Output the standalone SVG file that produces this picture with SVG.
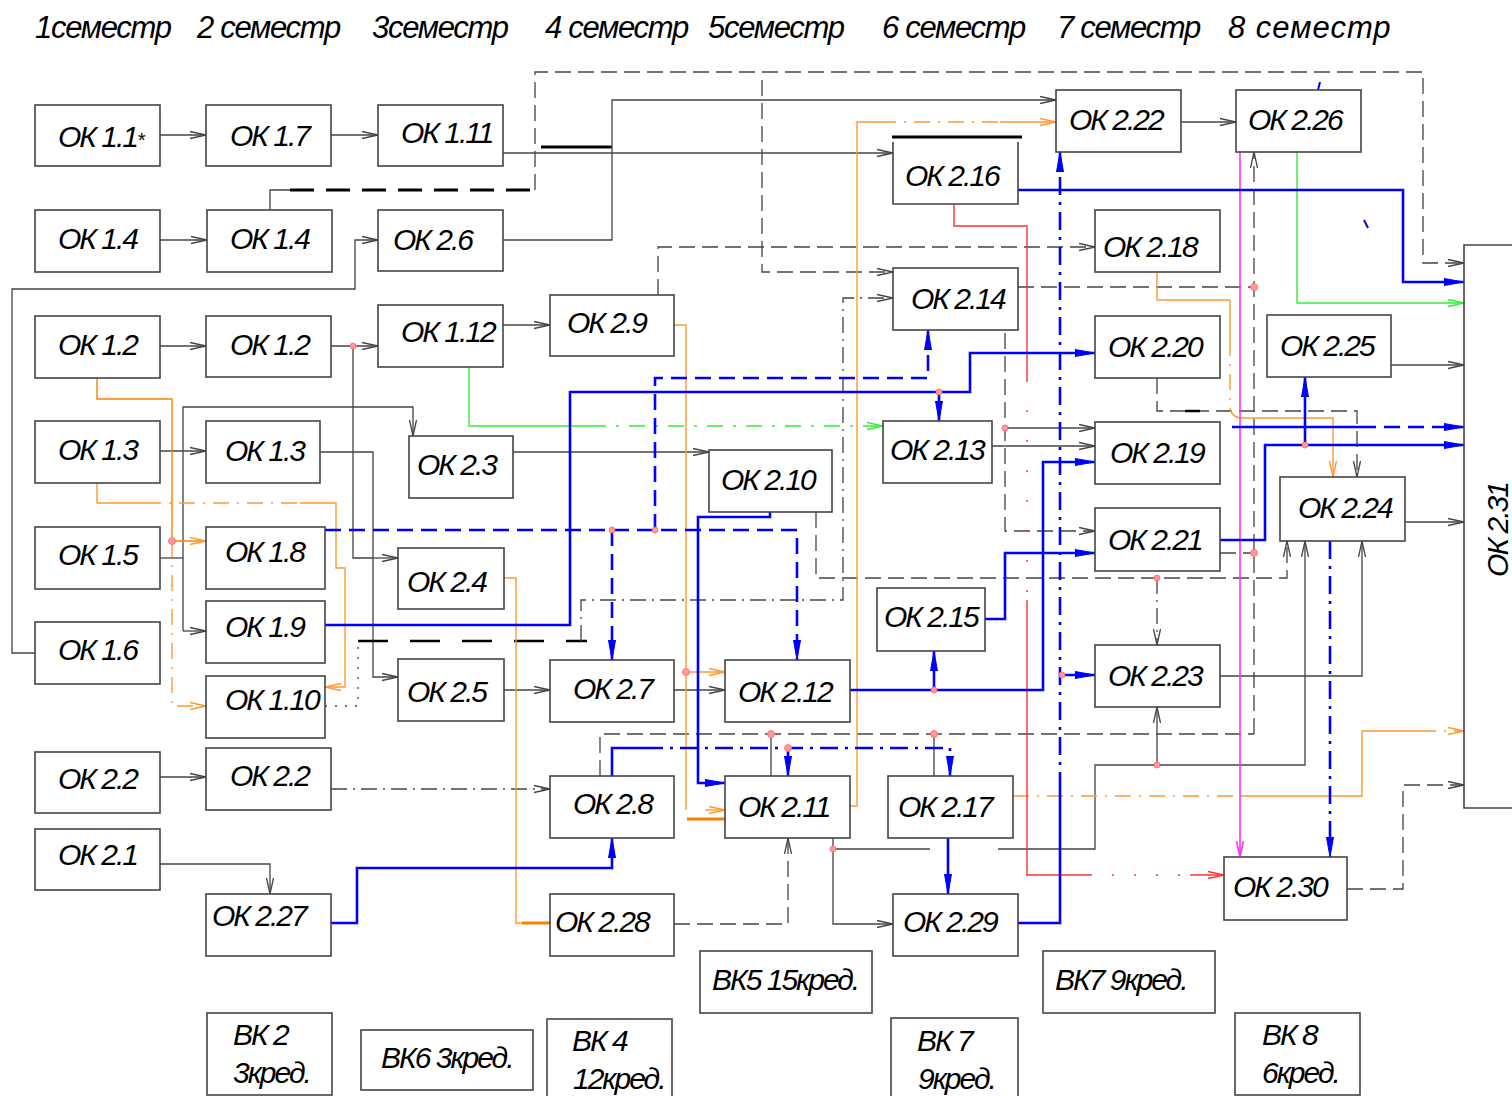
<svg xmlns="http://www.w3.org/2000/svg" width="1512" height="1096" viewBox="0 0 1512 1096">
<style>
text{font-family:"Liberation Sans",Arial,sans-serif;font-style:italic;font-size:30px;letter-spacing:-2px;fill:#000}
.hd{font-size:31px;letter-spacing:-1.3px}
.n rect,.n path{fill:#fff;stroke:#444;stroke-width:1.6}
.k{fill:none;stroke:#444;stroke-width:1.3}
.kd{stroke-dasharray:16 7}
.kdd{stroke-dasharray:16 6 2 6}
.kt{fill:none;stroke:#000;stroke-width:3}
.b{fill:none;stroke:#0000ff;stroke-width:2.6}
.bd{stroke-dasharray:16 8}
.bdd{stroke-dasharray:18 7 3 7}
.o{fill:none;stroke:#ff9933;stroke-width:1.4}
.odd{stroke-dasharray:16 8 2 8}
.r{fill:none;stroke:#ff3333;stroke-width:1.4}
.rdd{stroke-dasharray:2 28}
.g{fill:none;stroke:#33ee33;stroke-width:1.4}
.gdd{stroke-dasharray:16 10 3 10}
.m{fill:none;stroke:#ff33ff;stroke-width:1.6}
.dot{fill:#ff9999;stroke:#ff6666;stroke-width:0.8}
</style>
<defs>
<marker id="a" viewBox="0 0 16 10" refX="16" refY="5" markerWidth="16" markerHeight="10" orient="auto" markerUnits="userSpaceOnUse"><path d="M0,1.5 L16,5 L0,8.5" fill="none" stroke="#444" stroke-width="1.3"/></marker>
<marker id="ao" viewBox="0 0 16 10" refX="16" refY="5" markerWidth="16" markerHeight="10" orient="auto" markerUnits="userSpaceOnUse"><path d="M0,1.5 L16,5 L0,8.5" fill="none" stroke="#ff9933" stroke-width="1.4"/></marker>
<marker id="ar" viewBox="0 0 16 10" refX="16" refY="5" markerWidth="16" markerHeight="10" orient="auto" markerUnits="userSpaceOnUse"><path d="M0,1.5 L16,5 L0,8.5" fill="none" stroke="#ff3333" stroke-width="1.4"/></marker>
<marker id="ag" viewBox="0 0 16 10" refX="16" refY="5" markerWidth="16" markerHeight="10" orient="auto" markerUnits="userSpaceOnUse"><path d="M0,1.5 L16,5 L0,8.5" fill="none" stroke="#33ee33" stroke-width="1.4"/></marker>
<marker id="am" viewBox="0 0 16 10" refX="16" refY="5" markerWidth="16" markerHeight="10" orient="auto" markerUnits="userSpaceOnUse"><path d="M0,1.5 L16,5 L0,8.5" fill="none" stroke="#ff33ff" stroke-width="1.6"/></marker>
<marker id="ab" viewBox="0 0 20 10" refX="20" refY="5" markerWidth="20" markerHeight="10" orient="auto" markerUnits="userSpaceOnUse"><path d="M0,1.5 L20,5 L0,8.5 Z" fill="#0000ff" stroke="#0000ff" stroke-width="1"/></marker>
</defs>
<rect width="1512" height="1096" fill="#fff"/>

<g id="headers">
<text class="hd" x="35" y="38">1семестр</text>
<text class="hd" x="197" y="38">2 семестр</text>
<text class="hd" x="372" y="38">3семестр</text>
<text class="hd" x="545" y="38">4 семестр</text>
<text class="hd" x="708" y="38">5семестр</text>
<text class="hd" x="882" y="38">6 семестр</text>
<text class="hd" x="1057" y="38">7 семестр</text>
<text class="hd" x="1228" y="38" style="letter-spacing:1px">8 семестр</text>
</g>

<g id="connectors">
<!-- black -->
<path class="k" d="M160,135 H206" marker-end="url(#a)"/>
<path class="k" d="M331,135 H378" marker-end="url(#a)"/>
<path class="k" d="M160,240 H207" marker-end="url(#a)"/>
<path class="k" d="M160,346 H206" marker-end="url(#a)"/>
<path class="k" d="M331,346 H378" marker-end="url(#a)"/>
<path class="k" d="M35,653 H12 V289 H355 V240 H378" marker-end="url(#a)"/>
<path class="k" d="M503,153 H893" marker-end="url(#a)"/>
<path class="kt" d="M541,147 H612"/>
<path class="k" d="M503,240 H612 V100 H1056" marker-end="url(#a)"/>
<path class="k" d="M270,210 V190 H290"/>
<path class="kt" d="M290,190 H535" style="stroke-dasharray:24 12"/>
<path class="k kd" d="M535,190 V72 H1423 V263 H1464" marker-end="url(#a)"/>
<path class="k kd" d="M762,80 V272 H893" marker-end="url(#a)"/>
<path class="k kd" d="M658,295 V247 H1095" marker-end="url(#a)"/>
<path class="k" d="M503,325 H550" marker-end="url(#a)"/>
<path class="k" d="M160,451 H206" marker-end="url(#a)"/>
<path class="k" d="M183,631 V407 H413 V436" marker-end="url(#a)"/>
<path class="k" d="M183,631 H206" marker-end="url(#a)"/>
<path class="k" d="M160,558 H183"/>
<path class="k" d="M353,346 V558 H373"/>
<path class="k" d="M320,452 H373 V677 H398" marker-end="url(#a)"/>
<path class="k" d="M373,558 H398" marker-end="url(#a)"/>
<path class="k kdd" d="M325,706 H358 V641" style="stroke-dasharray:2 8"/>
<path class="kt" d="M358,641 H587" style="stroke-dasharray:30 22;stroke-width:2.6"/>
<path class="k kdd" d="M581,641 V600 H843 V298 H893" marker-end="url(#a)"/>
<path class="k" d="M513,452 H709" marker-end="url(#a)"/>
<path class="k" d="M504,690 H550" marker-end="url(#a)"/>
<path class="k" d="M674,690 H725" marker-end="url(#a)"/>
<path class="k" d="M160,777 H206" marker-end="url(#a)"/>
<path class="k kdd" d="M331,789 H550" marker-end="url(#a)"/>
<path class="k" d="M160,864 H270 V894" marker-end="url(#a)"/>
<path class="k kd" d="M674,924 H788 V838" marker-end="url(#a)"/>
<path class="k" d="M833,838 V924 H893" marker-end="url(#a)"/>
<path class="k" d="M833,849 H930 M998,849 H1095 V765 H1305 V541" marker-end="url(#a)"/>
<path class="k" d="M1157,765 V707" marker-end="url(#a)"/>
<path class="k kd" d="M600,776 V734 H1254"/>
<path class="k" d="M771,734 V776 M934,734 V776"/>
<path class="k kd" d="M1254,734 V152" marker-end="url(#a)"/>
<path class="k kd" d="M1018,287 H1254"/>
<path class="k kd" d="M1005,287 V531 H1095" marker-end="url(#a)"/>
<path class="k" d="M1005,428 H1095" marker-end="url(#a)"/>
<path class="k" d="M992,446 H1095" marker-end="url(#a)"/>
<path class="k kd" d="M816,512 V578 H1287 V541" marker-end="url(#a)"/>
<path class="k kdd" d="M1157,578 V645" marker-end="url(#a)"/>
<path class="k" d="M1181,122 H1236" marker-end="url(#a)"/>
<path class="k kd" d="M1157,378 V411 H1357 V477" marker-end="url(#a)"/>
<path class="kt" d="M1185,411 H1200" style="stroke-width:2.5"/>
<path class="k" d="M1391,365 H1464" marker-end="url(#a)"/>
<path class="k" d="M1405,522 H1464" marker-end="url(#a)"/>
<path class="k" d="M1220,676 H1362 V541" marker-end="url(#a)"/>
<path class="k kd" d="M1347,889 H1403 V785 H1464" marker-end="url(#a)"/>
<path class="k kd" d="M1220,553 H1254"/>
<!-- orange -->
<path class="o" d="M97,378 V399 H172 V541 H206" marker-end="url(#ao)" style="stroke:#ff8000"/>
<path class="o odd" d="M172,541 V706 H206" marker-end="url(#ao)"/>
<path class="o" d="M97,483 V503 H145"/>
<path class="o odd" d="M145,503 H300"/>
<path class="o" d="M300,503 H336 V568 H345 V687 H325" marker-end="url(#ao)"/>
<path class="o" d="M504,578 H516 V923 H550"/>
<path d="M522,923 H550" fill="none" stroke="#ff7f00" stroke-width="3"/>
<path class="o" d="M674,325 H686 V810"/>
<path class="o" d="M705,810 H725" marker-end="url(#ao)"/>
<path d="M687,819 H732" fill="none" stroke="#ff7f00" stroke-width="3"/>
<path class="o" d="M686,672 H725" marker-end="url(#ao)"/>
<path class="o" d="M850,806 H857 V122 H880"/>
<path class="o odd" d="M880,122 H1000"/>
<path class="o" d="M1000,122 H1056" marker-end="url(#ao)"/>
<path class="o odd" d="M1013,796 H1240"/>
<path class="o" d="M1240,796 H1362 V731 H1420"/>
<path class="o odd" d="M1420,731 H1464" marker-end="url(#ao)"/>
<path class="o" d="M1157,272 V300 H1230 V340"/>
<path class="o odd" d="M1230,340 V408"/>
<path class="o" d="M1230,408 Q1232,418 1242,418 H1333 V477" marker-end="url(#ao)"/>
<!-- red -->
<path class="r" d="M954,204 V226 H1027 V380"/>
<path class="r rdd" d="M1027,380 V600"/>
<path class="r" d="M1027,600 V875 H1090"/>
<path class="r rdd" d="M1090,875 H1190" style="stroke-dasharray:2 20"/>
<path class="r" d="M1190,875 H1224" marker-end="url(#ar)"/>
<!-- magenta -->
<path class="m" d="M1240,152 V857" marker-end="url(#am)"/>
<!-- green -->
<path class="g" d="M1297,152 V303 H1464" marker-end="url(#ag)"/>
<path class="g" d="M469,367 V426 H590"/>
<path class="g gdd" d="M590,426 H883" marker-end="url(#ag)"/>
<!-- blue -->
<path class="b" d="M1018,190 H1403 V282 H1464" marker-end="url(#ab)"/>
<path class="b" d="M1018,923 H1060 V790"/>
<path class="b bdd" d="M1060,790 V152" marker-end="url(#ab)"/>
<path class="b" d="M1062,675 H1095" marker-end="url(#ab)"/>
<path class="b" d="M325,625 H570 V392 H970 V353 H1095" marker-end="url(#ab)"/>
<path class="b" d="M939,392 V421" marker-end="url(#ab)"/>
<path class="b bd" d="M325,530 H797 V660" marker-end="url(#ab)"/>
<path class="b bd" d="M612,530 V660" marker-end="url(#ab)"/>
<path class="b bd" d="M655,530 V378 H928 V330" marker-end="url(#ab)"/>
<path class="b" d="M850,690 H1043 V462 H1095" marker-end="url(#ab)"/>
<path class="b" d="M934,690 V651" marker-end="url(#ab)"/>
<path class="b" d="M985,619 H1005 V553 H1095" marker-end="url(#ab)"/>
<path class="b" d="M1220,540 H1265 V445 H1464" marker-end="url(#ab)"/>
<path class="b" d="M1305,445 V377" marker-end="url(#ab)"/>
<path class="b" d="M1232,427 H1360"/>
<path class="b bd" d="M1360,427 H1464" marker-end="url(#ab)"/>
<path class="b bdd" d="M1330,541 V857" marker-end="url(#ab)"/>
<path class="b" d="M331,923 H357 V868 H612 V838" marker-end="url(#ab)"/>
<path class="b" d="M612,776 V748 H645"/>
<path class="b bdd" d="M645,748 H950 V776" marker-end="url(#ab)"/>
<path class="b" d="M788,748 V776" marker-end="url(#ab)"/>
<path class="b" d="M770,512 V517 H698 V783 H725" marker-end="url(#ab)"/>
<path class="b" d="M948,838 V894" marker-end="url(#ab)"/>
<path class="b" d="M1320,82 L1318,90 M1364,220 L1368,228" style="stroke-width:2"/>
<!-- junction dots -->
<g class="dot">
<circle cx="353" cy="346" r="3"/><circle cx="172" cy="541" r="3.5"/><circle cx="686" cy="672" r="3.5"/>
<circle cx="612" cy="530" r="3"/><circle cx="655" cy="530" r="3"/><circle cx="939" cy="392" r="3"/>
<circle cx="934" cy="690" r="3"/><circle cx="1062" cy="675" r="3"/><circle cx="1305" cy="445" r="3"/>
<circle cx="1005" cy="428" r="3"/><circle cx="1254" cy="287" r="3.5"/><circle cx="1254" cy="553" r="3.5"/>
<circle cx="1157" cy="578" r="3"/><circle cx="1157" cy="765" r="3"/><circle cx="833" cy="849" r="3"/>
<circle cx="771" cy="734" r="3.5"/><circle cx="934" cy="734" r="3.5"/><circle cx="788" cy="748" r="3.5"/>
</g>
</g>

<g id="ok11" class="n"><rect x="35" y="105" width="125" height="61"/><text x="58" y="147">ОК 1.1<tspan style="font-size:20px">*</tspan></text></g>
<g id="ok14a" class="n"><rect x="35" y="210" width="125" height="62"/><text x="58" y="249">ОК 1.4</text></g>
<g id="ok12a" class="n"><rect x="35" y="316" width="125" height="62"/><text x="58" y="355">ОК 1.2</text></g>
<g id="ok13a" class="n"><rect x="35" y="421" width="125" height="62"/><text x="58" y="460">ОК 1.3</text></g>
<g id="ok15" class="n"><rect x="35" y="527" width="125" height="62"/><text x="58" y="565">ОК 1.5</text></g>
<g id="ok16" class="n"><rect x="35" y="622" width="125" height="62"/><text x="58" y="660">ОК 1.6</text></g>
<g id="ok22a" class="n"><rect x="35" y="752" width="125" height="61"/><text x="58" y="789">ОК 2.2</text></g>
<g id="ok21" class="n"><rect x="35" y="829" width="125" height="61"/><text x="58" y="865">ОК 2.1</text></g>

<g id="ok17" class="n"><rect x="206" y="105" width="125" height="61"/><text x="230" y="146">ОК 1.7</text></g>
<g id="ok14b" class="n"><rect x="207" y="210" width="125" height="62"/><text x="230" y="249">ОК 1.4</text></g>
<g id="ok12b" class="n"><rect x="206" y="316" width="125" height="61"/><text x="230" y="355">ОК 1.2</text></g>
<g id="ok13b" class="n"><rect x="206" y="421" width="114" height="62"/><text x="225" y="461">ОК 1.3</text></g>
<g id="ok18" class="n"><rect x="206" y="527" width="119" height="62"/><text x="225" y="562">ОК 1.8</text></g>
<g id="ok19" class="n"><rect x="206" y="601" width="119" height="62"/><text x="225" y="637">ОК 1.9</text></g>
<g id="ok110" class="n"><rect x="206" y="676" width="119" height="62"/><text x="225" y="710">ОК 1.10</text></g>
<g id="ok22b" class="n"><rect x="206" y="748" width="125" height="62"/><text x="230" y="786">ОК 2.2</text></g>
<g id="ok227" class="n"><rect x="206" y="894" width="125" height="62"/><text x="212" y="926">ОК 2.27</text></g>
<g id="vk2" class="n"><rect x="207" y="1013" width="125" height="82"/><text x="233" y="1045">ВК 2</text><text x="233" y="1083">3кред.</text></g>

<g id="ok111" class="n"><rect x="378" y="105" width="125" height="61"/><text x="401" y="143">ОК 1.11</text></g>
<g id="ok26" class="n"><rect x="378" y="210" width="125" height="61"/><text x="393" y="250">ОК 2.6</text></g>
<g id="ok112" class="n"><rect x="378" y="305" width="125" height="62"/><text x="401" y="342">ОК 1.12</text></g>
<g id="ok23" class="n"><rect x="409" y="436" width="104" height="62"/><text x="417" y="475">ОК 2.3</text></g>
<g id="ok24" class="n"><rect x="398" y="548" width="106" height="61"/><text x="407" y="592">ОК 2.4</text></g>
<g id="ok25" class="n"><rect x="398" y="659" width="106" height="62"/><text x="407" y="702">ОК 2.5</text></g>
<g id="vk6" class="n"><rect x="361" y="1030" width="172" height="60"/><text x="381" y="1068">ВК6 3кред.</text></g>

<g id="ok29" class="n"><rect x="550" y="295" width="124" height="61"/><text x="567" y="333">ОК 2.9</text></g>
<g id="ok27" class="n"><rect x="550" y="660" width="124" height="62"/><text x="573" y="699">ОК 2.7</text></g>
<g id="ok28" class="n"><rect x="550" y="776" width="124" height="62"/><text x="573" y="814">ОК 2.8</text></g>
<g id="ok228" class="n"><rect x="550" y="894" width="124" height="62"/><text x="555" y="932">ОК 2.28</text></g>
<g id="vk4" class="n"><rect x="547" y="1019" width="125" height="82"/><text x="572" y="1051">ВК 4</text><text x="573" y="1089">12кред.</text></g>

<g id="ok210" class="n"><rect x="709" y="450" width="123" height="62"/><text x="721" y="490">ОК 2.10</text></g>
<g id="ok212" class="n"><rect x="725" y="660" width="125" height="62"/><text x="738" y="702">ОК 2.12</text></g>
<g id="ok211" class="n"><rect x="725" y="776" width="125" height="62"/><text x="738" y="817">ОК 2.11</text></g>
<g id="vk5" class="n"><rect x="700" y="951" width="172" height="62"/><text x="712" y="990">ВК5 15кред.</text></g>

<g id="ok216" class="n"><path d="M893,142 V204 H1018 V142"/><path d="M892,137 H1022" style="stroke:#000;stroke-width:3"/><text x="905" y="186">ОК 2.16</text></g>
<g id="ok214" class="n"><rect x="893" y="268" width="125" height="62"/><text x="911" y="309">ОК 2.14</text></g>
<g id="ok213" class="n"><rect x="883" y="421" width="109" height="62"/><text x="890" y="460">ОК 2.13</text></g>
<g id="ok215" class="n"><rect x="877" y="588" width="108" height="63"/><text x="884" y="627">ОК 2.15</text></g>
<g id="ok217" class="n"><rect x="888" y="776" width="125" height="62"/><text x="898" y="817">ОК 2.17</text></g>
<g id="ok229" class="n"><rect x="893" y="894" width="125" height="62"/><text x="903" y="932">ОК 2.29</text></g>
<g id="vk7a" class="n"><rect x="891" y="1018" width="127" height="83"/><text x="917" y="1051">ВК 7</text><text x="918" y="1089">9кред.</text></g>

<g id="ok222" class="n"><rect x="1056" y="90" width="125" height="62"/><text x="1069" y="130">ОК 2.22</text></g>
<g id="ok218" class="n"><rect x="1095" y="210" width="125" height="62"/><text x="1103" y="257">ОК 2.18</text></g>
<g id="ok220" class="n"><rect x="1095" y="316" width="125" height="62"/><text x="1108" y="357">ОК 2.20</text></g>
<g id="ok219" class="n"><rect x="1095" y="422" width="125" height="62"/><text x="1110" y="463">ОК 2.19</text></g>
<g id="ok221" class="n"><rect x="1095" y="508" width="125" height="63"/><text x="1108" y="550">ОК 2.21</text></g>
<g id="ok223" class="n"><rect x="1095" y="645" width="125" height="62"/><text x="1108" y="686">ОК 2.23</text></g>
<g id="vk7b" class="n"><rect x="1043" y="951" width="172" height="62"/><text x="1055" y="990">ВК7 9кред.</text></g>

<g id="ok226" class="n"><rect x="1236" y="90" width="125" height="62"/><text x="1248" y="130">ОК 2.26</text></g>
<g id="ok225" class="n"><rect x="1267" y="315" width="124" height="62"/><text x="1280" y="356">ОК 2.25</text></g>
<g id="ok224" class="n"><rect x="1280" y="477" width="125" height="64"/><text x="1298" y="518">ОК 2.24</text></g>
<g id="ok230" class="n"><rect x="1224" y="857" width="123" height="63"/><text x="1233" y="897">ОК 2.30</text></g>
<g id="vk8" class="n"><rect x="1235" y="1013" width="125" height="82"/><text x="1262" y="1045">ВК 8</text><text x="1262" y="1083">6кред.</text></g>

<g id="ok231" class="n"><path d="M1513,245 H1464 V808 H1513"/><text transform="translate(1508,530) rotate(-90)" text-anchor="middle">ОК 2.31</text></g>
</svg>
